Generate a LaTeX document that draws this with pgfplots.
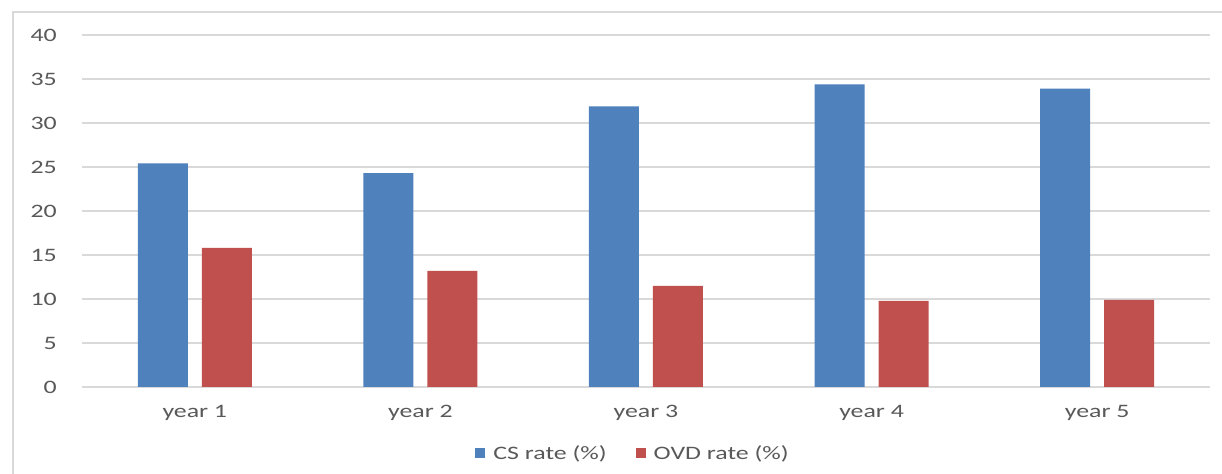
\documentclass[border=0pt]{standalone}
\usepackage{fontspec}
\setmainfont{Carlito}[FakeStretch=1.36]
\usepackage{pgfplots}
\pgfplotsset{compat=1.18}
\definecolor{csblue}{HTML}{4F81BD}
\definecolor{ovdred}{HTML}{C0504D}
\definecolor{gridgray}{HTML}{D9D9D9}
\definecolor{txt}{HTML}{595959}
\begin{document}
\begin{tikzpicture}
\useasboundingbox (0,0) rectangle (1222bp,474bp);
\fill[white] (0,0) rectangle (1222bp,474bp);
\draw[gridgray, line width=1.5bp] (13bp,0) -- (13bp,462bp) -- (1222bp,462bp);
\begin{axis}[
  at={(82bp,87bp)}, anchor=south west,
  scale only axis, width=1128bp, height=352bp,
  xmin=-0.5, xmax=4.5, ymin=0, ymax=40,
  ybar=14bp, bar width=50bp,
  xtick={0,...,4}, xticklabels={year 1,year 2,year 3,year 4,year 5},
  ytick={0,5,...,40},
  ymajorgrids, grid style={gridgray, line width=1.5bp},
  axis line style={draw=none},
  major tick length=0pt,
  /pgf/number format/assume math mode=true,
  tick label style={font=\fontsize{19bp}{22bp}\selectfont, text=txt, inner sep=0pt},
  yticklabel style={anchor=east, xshift=-25bp},
  xticklabel style={anchor=north, yshift=-18bp},
  legend style={at={(0.489,-0.1875)}, anchor=center, draw=none, fill=none,
    legend columns=2, font=\fontsize{19bp}{22bp}\selectfont, text=txt,
    nodes={inner sep=3bp},
    /tikz/every even column/.append style={column sep=26bp}},
  legend image code/.code={\fill[#1] (0bp,-5bp) rectangle (10bp,5bp); \path (15bp,0bp);},
]
\addplot[fill=csblue, draw=none] coordinates {(0,25.4) (1,24.3) (2,31.9) (3,34.4) (4,33.9)};
\addplot[fill=ovdred, draw=none] coordinates {(0,15.8) (1,13.2) (2,11.5) (3,9.8) (4,9.9)};
\legend{CS rate (\%), OVD rate (\%)}
\end{axis}
\end{tikzpicture}
\end{document}
